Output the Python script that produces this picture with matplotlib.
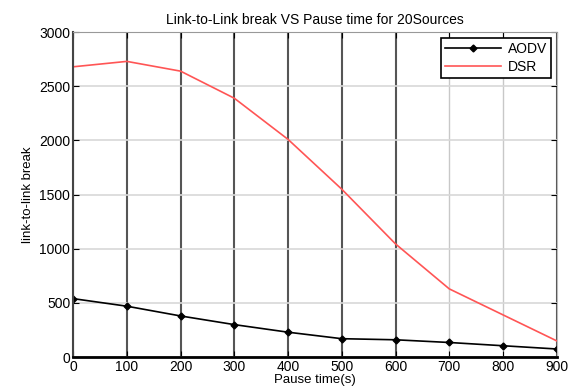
import matplotlib
matplotlib.use("Agg")
import matplotlib.pyplot as plt

pause = [0, 100, 200, 300, 400, 500, 600, 700, 800, 900]
aodv = [540, 470, 380, 300, 230, 170, 160, 135, 105, 75]
dsr = [2680, 2730, 2640, 2390, 2010, 1550, 1045, 630, 390, 150]

plt.rcParams['font.family'] = ['Liberation Sans', 'DejaVu Sans']

fig = plt.figure(figsize=(5.71, 3.92), dpi=100)
ax = fig.add_axes([0.128, 0.089, 0.847, 0.829])

ax.plot(pause, aodv, color='black', marker='D', markersize=3.5, linewidth=1.2, label='AODV')
ax.plot(pause, dsr, color='#ff5555', linewidth=1.2, label='DSR')

ax.set_xlim(0, 900)
ax.set_ylim(0, 3000)
ax.set_xticks(pause)
ax.set_yticks([0, 500, 1000, 1500, 2000, 2500, 3000])

ax.set_axisbelow(True)
ax.yaxis.grid(True, color='#d8d8d8', linewidth=1.2)
ax.xaxis.grid(True, color='#555555', linewidth=1.5)
for i, gl in enumerate(ax.xaxis.get_gridlines()):
    if pause[i] in (700, 800):
        gl.set_color('#c8c8c8')
        gl.set_linewidth(1.0)

ax.tick_params(direction='in', length=4, labelsize=10, top=True, right=True, pad=2)
ax.spines['bottom'].set_linewidth(2)
ax.spines['left'].set_linewidth(1.5)
ax.spines['left'].set_color('#444444')
ax.spines['top'].set_color('#999999')
ax.spines['right'].set_color('#bbbbbb')

ax.set_title('Link-to-Link break VS Pause time for 20Sources', fontsize=10, pad=6)
ax.set_xlabel('Pause time(s)', fontsize=9.5, labelpad=0)
ax.set_ylabel('link-to-link break', fontsize=9.5, labelpad=4)

leg = ax.legend(loc='upper right', fontsize=10, fancybox=False, framealpha=1,
                edgecolor='black', borderpad=0.3, handlelength=4, borderaxespad=0.4,
                labelspacing=0.3, handletextpad=0.5)
leg.get_frame().set_linewidth(1.2)

fig.savefig('out.png', dpi=100)
